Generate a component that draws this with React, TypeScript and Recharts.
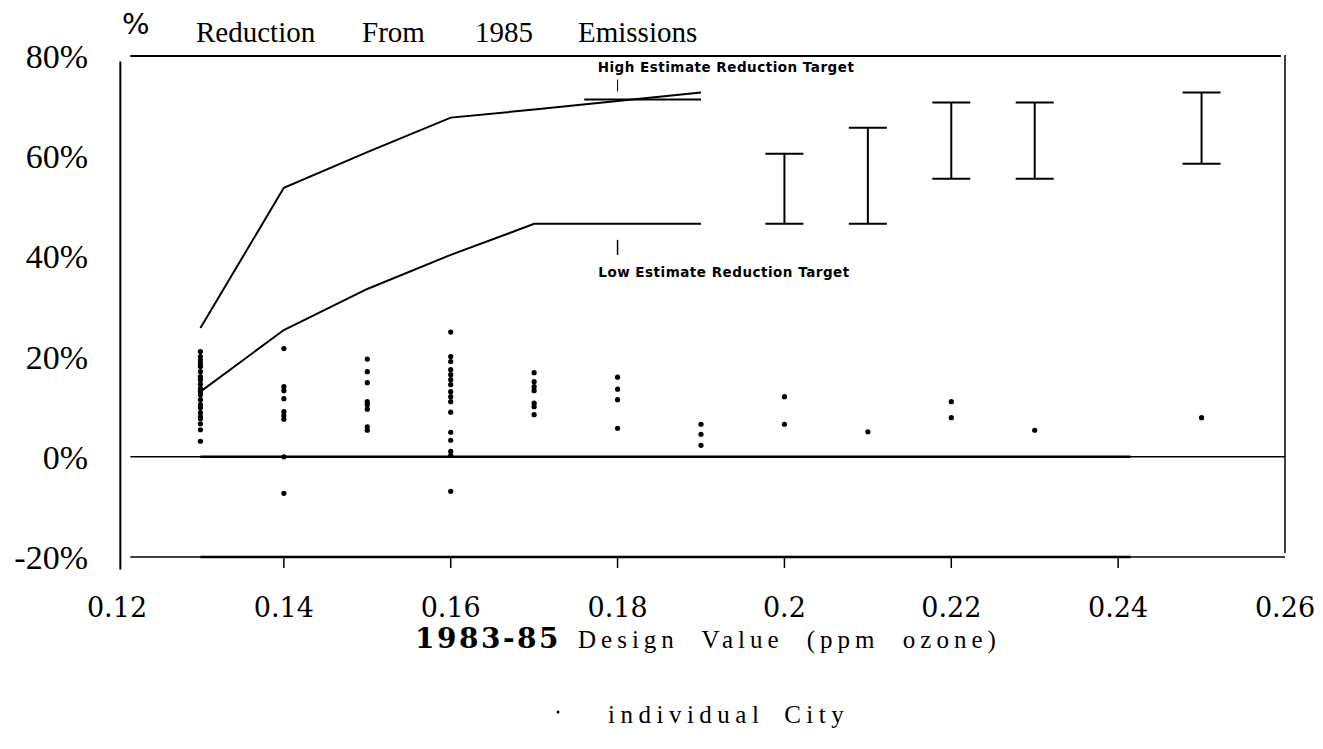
import { ComposedChart, Line, Scatter, XAxis, YAxis, ReferenceLine, ErrorBar } from 'recharts'

// axis ticks
const xTicks = [0.12, 0.14, 0.16, 0.18, 0.2, 0.22, 0.24, 0.26]
const yTicks = [-20, 0, 20, 40, 60, 80]

// reduction target curves (% reduction by design value)
const highEstimate = [
	{ x: 0.13, y: 25.7 },
	{ x: 0.14, y: 53.7 },
	{ x: 0.15, y: 60.8 },
	{ x: 0.16, y: 67.7 },
	{ x: 0.17, y: 69.3 },
	{ x: 0.18, y: 71.0 },
	{ x: 0.19, y: 72.7 },
]
const highTarget = [
	{ x: 0.176, y: 71.3 },
	{ x: 0.19, y: 71.3 },
]
const lowEstimate = [
	{ x: 0.13, y: 13 },
	{ x: 0.14, y: 25.3 },
	{ x: 0.15, y: 33.5 },
	{ x: 0.16, y: 40.3 },
	{ x: 0.17, y: 46.5 },
	{ x: 0.18, y: 46.5 },
	{ x: 0.19, y: 46.5 },
]

// ranges for higher design values
const rangeX = [0.2, 0.21, 0.22, 0.23, 0.25]
const rangeLow = [46.5, 46.5, 55.5, 55.5, 58.5]
const rangeHigh = [60.5, 65.7, 70.7, 70.7, 72.7]

// individual city points, one list per design value
const cityX = [0.13, 0.14, 0.15, 0.16, 0.17, 0.18, 0.19, 0.2, 0.21, 0.22, 0.23, 0.25]
const cityValues = [
	[21, 20, 19.3, 18.6, 18, 17, 16, 15.4, 14.5, 13.6, 13, 12.4, 11.4, 10.4, 9.8, 8.8, 8, 7.6, 6.6, 5.4, 3.1],
	[21.6, 14, 13.2, 11.6, 9.0, 8.2, 7.5, 0, -7.3],
	[19.5, 17, 14.8, 11, 10.4, 9.5, 6, 5.3],
	[24.9, 20, 19, 17.4, 16.4, 15.4, 14.4, 13, 12, 11, 8.9, 4.9, 3.3, 1.1, 0.3, -6.9],
	[16.8, 15, 14, 13.2, 10.7, 10, 8.4],
	[15.9, 13.5, 11.4, 5.7],
	[6.5, 4.5, 2.3],
	[12, 6.5],
	[5],
	[11, 7.8],
	[5.3],
	[7.8],
]

const cityPoints = cityX.flatMap((x, i) => cityValues[i].map((y) => ({ x, y })))
const ranges = rangeX.map((x, i) => ({ x, y: rangeLow[i], err: [0, rangeHigh[i] - rangeLow[i]] }))

const XTick = (props: any) => {
	const { x, y, payload } = props
	const v = payload.value
	const inner = v > 0.125 && v < 0.255
	return (
		<g>
			{inner && <line x1={x} y1={y + 1} x2={x} y2={y + 11} stroke="#000" strokeWidth={1.5} />}
			<text x={x} y={y + 60} textAnchor="middle" fontFamily="DejaVu Serif" fontSize={27} fill="#000">
				{String(v)}
			</text>
		</g>
	)
}

const YTick = (props: any) => {
	const { y, payload } = props
	return (
		<text x={88} y={y + 12} textAnchor="end" fontFamily="Liberation Serif" fontSize={34} fill="#000">
			{`${payload.value}%`}
		</text>
	)
}

const CityDot = (props: any) => <circle cx={props.cx} cy={props.cy} r={2.6} fill="#000" />
const NoDot = () => <g />

const serif = 'Liberation Serif'
const note = { fontFamily: 'DejaVu Sans', fontWeight: 700, fontSize: 13.5, letterSpacing: 0.5 }

const App = () => {
	return (
		<div style={{ position: 'absolute', left: 0, top: 0, width: 1323, height: 749, background: '#fff' }}>
			<ComposedChart
				width={1323}
				height={749}
				margin={{ top: 56, right: 38, left: 17, bottom: 132 }}
				style={{ position: 'absolute', left: 0, top: 0 }}
			>
				<XAxis
					type="number"
					dataKey="x"
					domain={[0.12, 0.26]}
					ticks={xTicks}
					interval={0}
					axisLine={false}
					tickLine={false}
					tickSize={0}
					tickMargin={0}
					height={60}
					tick={<XTick />}
					allowDataOverflow
				/>
				<YAxis
					type="number"
					dataKey="y"
					domain={[-20, 80]}
					ticks={yTicks}
					interval={0}
					axisLine={false}
					tickLine={false}
					width={100}
					tick={<YTick />}
					allowDataOverflow
				/>

				{/* frame */}
				<ReferenceLine segment={[{ x: 0.1204, y: -22.5 }, { x: 0.1204, y: 78.9 }]} stroke="#000" strokeWidth={2} ifOverflow="visible" />
				<ReferenceLine segment={[{ x: 0.1216, y: 80 }, { x: 0.2595, y: 80 }]} stroke="#000" strokeWidth={2} ifOverflow="visible" />
				<ReferenceLine segment={[{ x: 0.26, y: 80.2 }, { x: 0.26, y: -19.2 }]} stroke="#000" strokeWidth={1.5} ifOverflow="visible" />
				<ReferenceLine segment={[{ x: 0.1216, y: 0 }, { x: 0.26, y: 0 }]} stroke="#000" strokeWidth={1.5} ifOverflow="visible" />
				<ReferenceLine segment={[{ x: 0.13, y: 0 }, { x: 0.2415, y: 0 }]} stroke="#000" strokeWidth={2.6} ifOverflow="visible" />
				<ReferenceLine segment={[{ x: 0.1216, y: -20 }, { x: 0.26, y: -20 }]} stroke="#000" strokeWidth={1.5} ifOverflow="visible" />
				<ReferenceLine segment={[{ x: 0.13, y: -20 }, { x: 0.2415, y: -20 }]} stroke="#000" strokeWidth={2.6} ifOverflow="visible" />

				{/* pointers to the target labels */}
				<ReferenceLine segment={[{ x: 0.18, y: 72.9 }, { x: 0.18, y: 75.3 }]} stroke="#000" strokeWidth={1} />
				<ReferenceLine segment={[{ x: 0.18, y: 40.3 }, { x: 0.18, y: 43.3 }]} stroke="#000" strokeWidth={1.5} />

				<Line data={highEstimate} dataKey="y" type="linear" stroke="#000" strokeWidth={2} dot={false} isAnimationActive={false} />
				<Line data={highTarget} dataKey="y" type="linear" stroke="#000" strokeWidth={2} dot={false} isAnimationActive={false} />
				<Line data={lowEstimate} dataKey="y" type="linear" stroke="#000" strokeWidth={2} dot={false} isAnimationActive={false} />

				<Scatter data={ranges} dataKey="y" shape={<NoDot />} isAnimationActive={false}>
					<ErrorBar dataKey="err" direction="y" width={19} stroke="#000" strokeWidth={2} />
				</Scatter>
				<Scatter data={cityPoints} dataKey="y" shape={<CityDot />} isAnimationActive={false} />
			</ComposedChart>

			<svg width={1323} height={749} style={{ position: 'absolute', left: 0, top: 0, pointerEvents: 'none' }}>
				<text x={122} y={34} fontFamily="DejaVu Sans" fontSize={29}>%</text>
				<text x={196} y={42} fontFamily={serif} fontSize={29}>Reduction</text>
				<text x={362} y={42} fontFamily={serif} fontSize={29}>From</text>
				<text x={475} y={42} fontFamily={serif} fontSize={29}>1985</text>
				<text x={578} y={42} fontFamily={serif} fontSize={29}>Emissions</text>

				<text x={726} y={72} textAnchor="middle" style={note}>High Estimate Reduction Target</text>
				<text x={724} y={277} textAnchor="middle" style={note}>Low Estimate Reduction Target</text>

				<text x={415} y={648} fontFamily="DejaVu Serif" fontWeight={700} fontSize={28} letterSpacing={2.5}>1983-85</text>
				<text x={578} y={648} fontFamily={serif} fontSize={25} letterSpacing={5} wordSpacing={12}>Design Value (ppm ozone)</text>

				<circle cx={558} cy={712} r={1.5} fill="#000" />
				<text x={608} y={723} fontFamily={serif} fontSize={25} letterSpacing={5.5} wordSpacing={8}>individual City</text>
			</svg>
		</div>
	)
}

export default App
